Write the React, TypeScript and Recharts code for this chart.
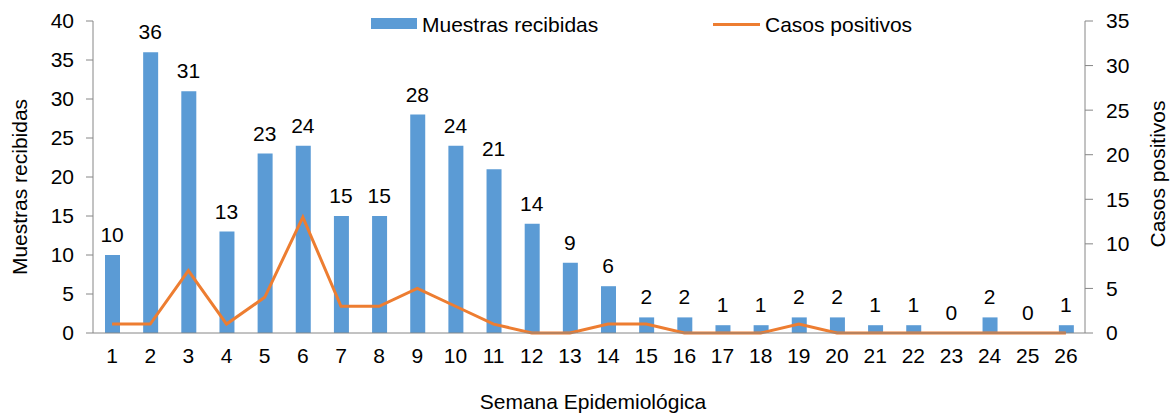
import { Bar, ComposedChart, LabelList, Legend, Line, XAxis, YAxis } from "recharts";

const weeks = ["1", "2", "3", "4", "5", "6", "7", "8", "9", "10", "11", "12", "13", "14", "15", "16", "17", "18", "19", "20", "21", "22", "23", "24", "25", "26"];
const muestras = [10, 36, 31, 13, 23, 24, 15, 15, 28, 24, 21, 14, 9, 6, 2, 2, 1, 1, 2, 2, 1, 1, 0, 2, 0, 1];
const positivos = [1, 1, 7, 1, 4, 13, 3, 3, 5, 3, 1, 0, 0, 1, 1, 0, 0, 0, 1, 0, 0, 0, 0, 0, 0, 0];
const leftTicks = [0, 5, 10, 15, 20, 25, 30, 35, 40];
const rightTicks = [0, 5, 10, 15, 20, 25, 30, 35];
const edgeTicks = [0, 1, 2, 3, 4, 5, 6, 7, 8, 9, 10, 11, 12, 13, 14, 15, 16, 17, 18, 19, 20, 21, 22, 23, 24, 25, 26];

const data = weeks.map((w, i) => ({ week: w, muestras: muestras[i], positivos: positivos[i] }));

const FONT = "'Liberation Sans', Arial, sans-serif";
const BLUE = "#5B9BD5";
const ORANGE = "#ED7D31";
const AXIS = "#868686";
const tickStyle = { fill: "#000", fontSize: 21, fontFamily: FONT };

const renderLegend = () => (
  <div style={{ position: "relative", height: 40, fontFamily: FONT, fontSize: 21, color: "#000" }}>
    <span style={{ position: "absolute", left: 371, top: 18, width: 46, height: 11, background: BLUE }} />
    <span style={{ position: "absolute", left: 422, top: 12.5, lineHeight: "24px", whiteSpace: "nowrap" }}>
      Muestras recibidas
    </span>
    <span style={{ position: "absolute", left: 713, top: 22.5, width: 47, height: 3, background: ORANGE }} />
    <span style={{ position: "absolute", left: 765, top: 12.5, lineHeight: "24px", whiteSpace: "nowrap" }}>
      Casos positivos
    </span>
  </div>
);

export default function App() {
  return (
    <div style={{ position: "absolute", left: 0, top: 0, width: 1170, height: 414, background: "#fff" }}>
      <ComposedChart
        width={1170}
        height={414}
        data={data}
        margin={{ top: 21, right: 0, bottom: 0, left: 0 }}
        style={{ fontFamily: FONT }}
      >
        <XAxis
          xAxisId="edge"
          type="number"
          domain={[0, 26]}
          ticks={edgeTicks}
          tick={false}
          axisLine={false}
          tickLine={{ stroke: AXIS }}
          tickSize={6}
          height={0}
        />
        <XAxis
          dataKey="week"
          type="category"
          height={81}
          tickLine={false}
          axisLine={{ stroke: AXIS }}
          tickSize={6}
          tickMargin={9}
          tick={tickStyle}
          interval={0}
          label={{ value: "Semana Epidemiológica", position: "center", dx: 4, dy: 28, fill: "#000", fontSize: 21, fontFamily: FONT }}
        />
        <YAxis
          yAxisId="left"
          width={93}
          domain={[0, 40]}
          ticks={leftTicks}
          interval={0}
          axisLine={{ stroke: AXIS }}
          tickLine={{ stroke: AXIS }}
          tickSize={7}
          tickMargin={12}
          tick={tickStyle}
          label={{ value: "Muestras recibidas", angle: -90, position: "center", dx: -27, dy: 10, fill: "#000", fontSize: 21, fontFamily: FONT }}
        />
        <YAxis
          yAxisId="right"
          orientation="right"
          width={85}
          domain={[0, 35]}
          ticks={rightTicks}
          interval={0}
          axisLine={{ stroke: AXIS }}
          tickLine={{ stroke: AXIS }}
          tickSize={8}
          tickMargin={13}
          tick={tickStyle}
          label={{ value: "Casos positivos", angle: -90, position: "center", dx: 30, dy: -3, fill: "#000", fontSize: 21, fontFamily: FONT }}
        />
        <Legend
          layout="horizontal"
          verticalAlign="middle"
          align="center"
          content={renderLegend}
          wrapperStyle={{ top: 0, left: 0, width: 1170, height: 40 }}
        />
        <Bar yAxisId="left" dataKey="muestras" name="Muestras recibidas" fill={BLUE} barSize={15} isAnimationActive={false} />
        {/* invisible carrier for the value labels, so that zero values get a label too */}
        <Line
          yAxisId="left"
          dataKey="muestras"
          legendType="none"
          stroke="none"
          dot={false}
          activeDot={false}
          isAnimationActive={false}
        >
          <LabelList dataKey="muestras" position="top" offset={13} fill="#000" fontSize={21} fontFamily={FONT} />
        </Line>
        <Line
          yAxisId="right"
          dataKey="positivos"
          name="Casos positivos"
          type="linear"
          stroke={ORANGE}
          strokeWidth={3}
          dot={false}
          activeDot={false}
          isAnimationActive={false}
        />
      </ComposedChart>
    </div>
  );
}
